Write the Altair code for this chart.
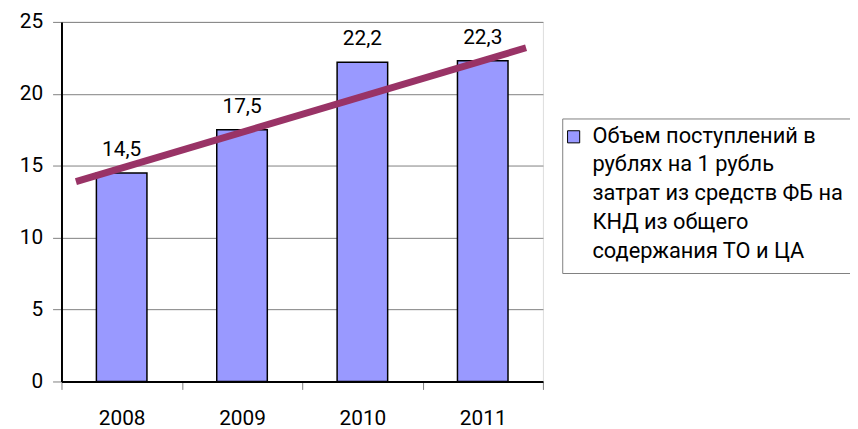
import altair as alt
import pandas as pd

# ---- data ----
years = ["2008", "2009", "2010", "2011"]
values = [14.5, 17.5, 22.2, 22.3]
# trend line end points (position in band units along the x axis, value)
trend_pos = [0.12, 3.86]
trend_vals = [13.9, 23.2]
y_ticks = [0, 5, 10, 15, 20, 25]
legend_lines = [
    "Объем поступлений в",
    "рублях на 1 рубль",
    "затрат из средств ФБ на",
    "КНД из общего",
    "содержания ТО и ЦА",
]

BAR = "#9999FF"
TREND = "#993366"
FONT = "Roboto"
FS = 21

df = pd.DataFrame({"year": years, "value": values})
tdf = pd.DataFrame({"pos": trend_pos, "value": trend_vals})
ldf = pd.DataFrame({"series": [" ".join(legend_lines)]})

W, H = 486, 363

y_enc = alt.Y(
    "value:Q",
    title=None,
    scale=alt.Scale(domain=[0, 25], nice=False),
    axis=alt.Axis(
        values=y_ticks,
        grid=True,
        gridColor="#808080",
        gridWidth=1,
        domainColor="black",
        domainWidth=2,
        tickColor="#808080",
        tickSize=9,
        labelPadding=10,
        labelFontSize=FS,
        labelFont=FONT,
        labelColor="black",
    ),
)

x_enc = alt.X(
    "year:N",
    title=None,
    scale=alt.Scale(paddingInner=0, paddingOuter=0),
    axis=alt.Axis(
        labelAngle=0,
        tickBand="extent",
        domainColor="black",
        domainWidth=2,
        tickColor="#808080",
        tickSize=8,
        labelPadding=18,
        labelFontSize=FS,
        labelFont=FONT,
        labelColor="black",
    ),
)

bars = alt.Chart(df).mark_bar(
    width=alt.RelativeBandSize(0.42), fill=BAR, stroke="black", strokeWidth=1.5
).encode(x=x_enc, y=y_enc)

labels = alt.Chart(df).transform_calculate(
    label="replace(format(datum.value, '.1f'), '.', ',')"
).mark_text(
    dy=-17, baseline="alphabetic", fontSize=FS, font=FONT, color="black"
).encode(x=alt.X("year:N"), y=alt.Y("value:Q"), text="label:N")

bar_layer = alt.layer(bars, labels)

trend = alt.Chart(tdf).mark_line(
    color=TREND, strokeWidth=7, strokeCap="butt"
).encode(
    x=alt.X("pos:Q", title=None, scale=alt.Scale(domain=[0, 4], nice=False), axis=None),
    y=alt.Y("value:Q"),
)

# legend (drawn by hand to keep the multi-line label spacing)
legend_box = alt.Chart(ldf).mark_rect(
    fill="white", stroke="#808080", strokeWidth=1
).encode(
    x=alt.value(506), x2=alt.value(830), y=alt.value(98), y2=alt.value(254)
)
legend_sym = alt.Chart(ldf).mark_point(
    shape="square", filled=True, size=150, fill=BAR, stroke="black",
    strokeWidth=1, opacity=1
).encode(x=alt.value(517), y=alt.value(116))
legend_txt = alt.Chart(ldf).mark_text(
    align="left", baseline="alphabetic", fontSize=22, font=FONT,
    lineHeight=29, color="black", text=legend_lines
).encode(x=alt.value(536), y=alt.value(122))

chart = alt.layer(
    bar_layer, trend, legend_box, legend_sym, legend_txt
).resolve_scale(x="independent").properties(
    width=W,
    height=H,
    autosize=alt.AutoSizeParams(type="none"),
    padding={"left": 54, "top": 12, "right": 850 - 54 - W, "bottom": 428 - 12 - H},
).configure_view(
    stroke="black", strokeWidth=2
).configure(font=FONT)

chart.save("out.html", embed_options={"renderer": "svg", "actions": False})
